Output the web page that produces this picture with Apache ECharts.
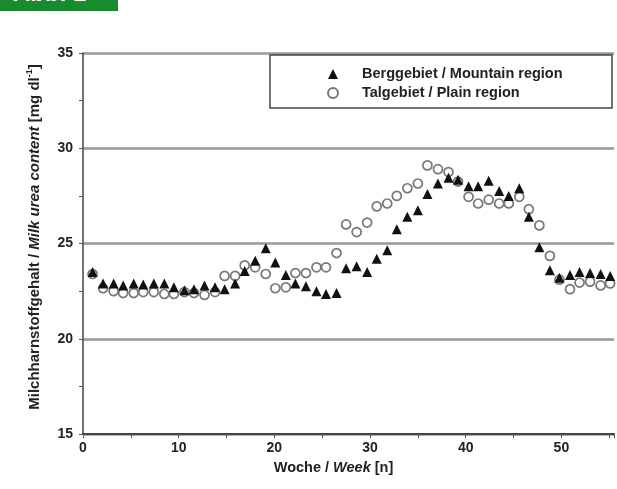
<!DOCTYPE html>
<html>
<head>
<meta charset="utf-8">
<script src="https://cdn.jsdelivr.net/npm/echarts@6.0.0/dist/echarts.min.js"></script>
<style>html,body{margin:0;padding:0;background:#fff}#c{width:617px;height:489px}</style>
</head>
<body>
<div id="c"></div>
<script>
// x positions of the weekly points
const weekPos = [1.0, 2.1, 3.2, 4.2, 5.3, 6.3, 7.4, 8.5, 9.5, 10.6, 11.6, 12.7, 13.8, 14.8, 15.9, 16.9, 18.0, 19.1, 20.1, 21.2, 22.2, 23.3, 24.4, 25.4, 26.5, 27.5, 28.6, 29.7, 30.7, 31.8, 32.8, 33.9, 35.0, 36.0, 37.1, 38.2, 39.2, 40.3, 41.3, 42.4, 43.5, 44.5, 45.6, 46.6, 47.7, 48.8, 49.8, 50.9, 51.9, 53.0, 54.1, 55.1];
const mountain = [23.5, 22.9, 22.9, 22.8, 22.9, 22.85, 22.9, 22.9, 22.7, 22.55, 22.6, 22.8, 22.7, 22.6, 22.9, 23.55, 24.1, 24.75, 24.0, 23.35, 22.9, 22.75, 22.5, 22.35, 22.4, 23.7, 23.8, 23.5, 24.2, 24.65, 25.75, 26.4, 26.75, 27.6, 28.15, 28.45, 28.35, 28.0, 28.0, 28.3, 27.75, 27.5, 27.9, 26.4, 24.8, 23.6, 23.2, 23.35, 23.5, 23.45, 23.4, 23.3];
const plain = [23.4, 22.65, 22.5, 22.4, 22.4, 22.45, 22.45, 22.35, 22.35, 22.45, 22.4, 22.3, 22.45, 23.3, 23.3, 23.85, 23.75, 23.4, 22.65, 22.7, 23.45, 23.45, 23.75, 23.75, 24.5, 26.0, 25.6, 26.1, 26.95, 27.1, 27.5, 27.9, 28.15, 29.1, 28.9, 28.75, 28.25, 27.45, 27.1, 27.3, 27.1, 27.1, 27.45, 26.8, 25.95, 24.35, 23.1, 22.6, 22.95, 23.0, 22.8, 22.9];
const xTickLabels = [0, 10, 20, 30, 40, 50];
const yTickLabels = [15, 20, 25, 30, 35];
const seriesNames = ['Berggebiet / Mountain region', 'Talgebiet / Plain region'];

const FONT = 'Arial, "Liberation Sans", sans-serif';
const pair = (vals) => vals.map((v, i) => [weekPos[i], v]);

const chart = echarts.init(document.getElementById('c'), null, {renderer: 'canvas'});
chart.setOption({
  animation: false,
  backgroundColor: '#fff',
  grid: {left: 83, right: 0, top: 53, bottom: 55},
  xAxis: {
    type: 'value', min: 0, max: 55.5, interval: 5,
    axisLine: {show: true, lineStyle: {color: '#444', width: 2}},
    axisTick: {show: true, length: 4, lineStyle: {color: '#555', width: 1}},
    axisLabel: {
      margin: 7, fontSize: 14, fontWeight: 'bold', color: '#222', fontFamily: FONT,
      formatter: v => xTickLabels.includes(v) ? String(v) : ''
    },
    splitLine: {show: false},
    name: '{a|Woche / }{b|Week}{a| [n]}',
    nameLocation: 'middle', nameGap: 26,
    nameTextStyle: {
      padding: [0, 30, 0, 0],
      rich: {
        a: {fontSize: 14.5, fontWeight: 'bold', color: '#222', fontFamily: FONT},
        b: {fontSize: 14.5, fontWeight: 'bold', fontStyle: 'italic', color: '#222', fontFamily: FONT}
      }
    }
  },
  yAxis: {
    type: 'value', min: 15, max: 35, interval: 5,
    axisLine: {show: true, lineStyle: {color: '#444', width: 1.5}},
    axisTick: {show: true, length: 4, lineStyle: {color: '#555', width: 1}},
    minorTick: {show: true, splitNumber: 2, length: 4, lineStyle: {color: '#555', width: 1}},
    axisLabel: {
      margin: 10, fontSize: 14, fontWeight: 'bold', color: '#222', fontFamily: FONT,
      formatter: v => yTickLabels.includes(v) ? String(v) : ''
    },
    splitLine: {show: true, lineStyle: {color: '#999', width: 2.5}},
    name: '{a|Milchharnstoffgehalt / }{b|Milk urea content}{a| [mg dl}{s|-1}{a|]}',
    nameLocation: 'middle', nameRotate: 90, nameGap: 41,
    nameTextStyle: {
      padding: [0, 0, 0, 13],
      rich: {
        a: {fontSize: 15, fontWeight: 'bold', color: '#222', fontFamily: FONT, lineHeight: 17, verticalAlign: 'bottom'},
        b: {fontSize: 15, fontWeight: 'bold', fontStyle: 'italic', color: '#222', fontFamily: FONT, lineHeight: 17, verticalAlign: 'bottom'},
        s: {fontSize: 9, fontWeight: 'bold', color: '#222', fontFamily: FONT, lineHeight: 17, verticalAlign: 'top'}
      }
    }
  },
  legend: {
    orient: 'vertical', left: 327, top: 66, padding: 0,
    itemWidth: 10, itemHeight: 10, itemGap: 3,
    selectedMode: false,
    data: [seriesNames[0], seriesNames[1]],
    textStyle: {fontSize: 14.5, fontWeight: 'bold', color: '#222', fontFamily: FONT, lineHeight: 16, padding: [0, 0, 0, 19]}
  },
  graphic: [
    {type: 'rect', shape: {x: 270, y: 55, width: 342, height: 53}, style: {fill: 'transparent', stroke: '#444', lineWidth: 1.5}, z: 10},
    {type: 'rect', shape: {x: 0, y: 0, width: 118, height: 11}, style: {fill: '#1a8a2e'}, z: 10},
    {type: 'text', x: 13, y: 6.5, style: {text: 'Abb. 1', fill: '#fff', font: 'bold 24px ' + FONT, verticalAlign: 'bottom'}, z: 11}
  ],
  series: [
    {
      name: seriesNames[1], type: 'scatter', data: pair(plain),
      symbol: 'circle', symbolSize: 9,
      itemStyle: {color: '#fff', borderColor: '#777', borderWidth: 1.7, opacity: 1},
      z: 2
    },
    {
      name: seriesNames[0], type: 'scatter', data: pair(mountain),
      symbol: 'triangle', symbolSize: 10,
      itemStyle: {color: '#111', opacity: 1},
      z: 3
    }
  ]
});
</script>
</body>
</html>
